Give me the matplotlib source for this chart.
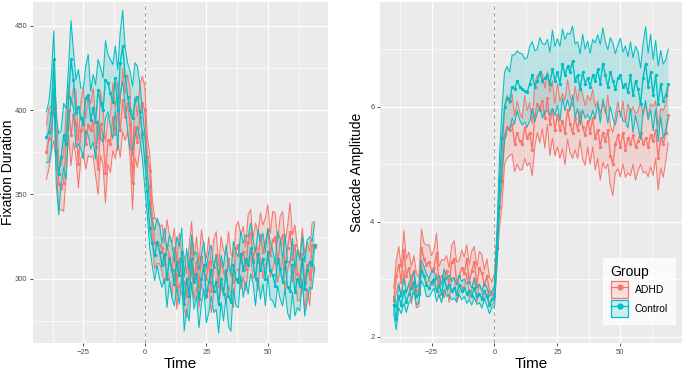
import numpy as np
import matplotlib
matplotlib.use("Agg")
import matplotlib.pyplot as plt
from matplotlib.patches import Patch
from matplotlib.lines import Line2D
from matplotlib.legend_handler import HandlerTuple

plt.rcParams['font.family'] = ['Liberation Sans', 'DejaVu Sans']

# ---- data ----
time = list(range(-40, 70))

fix_adhd = [375, 383, 389, 402, 385, 356, 354, 357, 380, 400,
            385, 397, 392, 368, 388, 394, 380, 391, 388, 393,
            378, 365, 392, 384, 363, 382, 380, 396, 386, 399,
            388, 406, 396, 404, 392, 357, 390, 381, 396, 404,
            400, 372, 364, 336, 321, 322, 320, 318, 309, 320,
            313, 305, 318, 296, 312, 303, 298, 290, 304, 320,
            300, 310, 296, 313, 305, 300, 310, 293, 307, 314,
            296, 310, 304, 300, 312, 303, 298, 318, 320, 310,
            316, 306, 322, 327, 312, 318, 310, 326, 316, 322,
            329, 314, 323, 325, 310, 321, 326, 307, 318, 328,
            312, 320, 303, 300, 315, 298, 308, 300, 320, 319]
fix_adhd_ci = [16, 18, 14, 20, 17, 15, 13, 17, 19, 15,
               18, 16, 20, 14, 17, 19, 15, 18, 16, 20,
               17, 15, 19, 16, 18, 14, 17, 20, 15, 18,
               16, 19, 14, 17, 20, 16, 18, 15, 19, 16,
               14, 12, 10, 12, 15, 13, 11, 14, 12, 15,
               13, 16, 12, 14, 15, 12, 16, 13, 15, 14,
               12, 15, 13, 16, 14, 12, 15, 13, 16, 14,
               12, 15, 13, 14, 16, 12, 15, 13, 14, 16,
               15, 13, 16, 14, 12, 15, 17, 13, 16, 14,
               15, 13, 17, 14, 12, 16, 14, 15, 13, 17,
               14, 12, 16, 13, 15, 17, 14, 16, 13, 15]

fix_ctrl = [384, 387, 398, 430, 376, 362, 372, 385, 380, 408,
            430, 418, 398, 402, 395, 392, 407, 409, 394, 401,
            393, 412, 404, 400, 418, 416, 410, 405, 419, 400,
            428, 438, 420, 408, 400, 395, 406, 408, 399, 386,
            370, 352, 330, 321, 314, 322, 316, 308, 315, 300,
            312, 305, 297, 310, 302, 316, 285, 300, 290, 312,
            298, 303, 288, 300, 308, 290, 298, 305, 293, 298,
            285, 300, 291, 305, 290, 286, 308, 300, 298, 315,
            305, 312, 308, 318, 310, 300, 315, 305, 312, 300,
            316, 305, 302, 296, 312, 306, 298, 310, 295, 293,
            308, 292, 300, 296, 312, 294, 305, 310, 308, 320]
fix_ctrl_ci = [15, 18, 22, 17, 20, 24, 16, 19, 21, 18,
               23, 17, 20, 22, 18, 21, 19, 24, 17, 20,
               22, 18, 21, 19, 23, 17, 20, 22, 19, 24,
               18, 21, 17, 20, 23, 19, 22, 18, 16, 15,
               16, 14, 12, 13, 15, 14, 16, 13, 15, 17,
               14, 16, 13, 15, 17, 14, 16, 18, 15, 14,
               16, 13, 17, 15, 14, 16, 18, 15, 13, 16,
               17, 14, 16, 15, 18, 17, 14, 16, 15, 13,
               16, 14, 17, 15, 13, 16, 14, 17, 15, 16,
               14, 17, 15, 13, 16, 18, 14, 16, 15, 17,
               16, 14, 17, 15, 13, 16, 18, 15, 14, 13]

sac_adhd = [2.62, 3.05, 3.25, 2.95, 3.50, 3.05, 3.20, 2.90, 3.15, 2.80,
            2.78, 3.55, 3.35, 3.25, 3.30, 3.15, 3.20, 3.45, 2.95, 3.05,
            3.00, 3.15, 2.90, 3.30, 3.35, 2.95, 3.05, 3.20, 3.10, 3.35,
            2.95, 3.15, 3.30, 2.90, 3.20, 3.10, 2.90, 3.05, 2.80, 2.75,
            2.85, 3.55, 4.25, 4.70, 5.50, 5.65, 5.60, 5.70, 5.35, 5.55,
            5.40, 5.35, 5.65, 5.45, 5.55, 5.25, 5.85, 6.05, 5.95, 6.10,
            5.80, 6.15, 5.70, 5.95, 5.60, 5.85, 5.60, 5.75, 5.55, 5.95,
            5.70, 5.55, 5.80, 5.60, 5.90, 5.65, 5.50, 5.75, 5.55, 5.80,
            5.45, 5.60, 5.30, 5.55, 5.40, 5.60, 5.15, 5.00, 5.35, 5.50,
            5.30, 5.55, 5.25, 5.45, 5.35, 5.50, 5.30, 5.40, 5.55, 5.35,
            5.45, 5.30, 5.50, 5.40, 5.60, 5.10, 5.45, 5.35, 5.55, 5.85]
sac_adhd_ci = [.22, .28, .32, .25, .35, .30, .27, .33, .26, .30,
               .25, .32, .28, .34, .30, .26, .31, .35, .27, .29,
               .33, .26, .30, .28, .32, .35, .27, .31, .29, .25,
               .30, .34, .27, .31, .28, .33, .26, .30, .24, .20,
               .25, .30, .35, .40, .50, .55, .45, .52, .48, .55,
               .50, .45, .55, .48, .52, .45, .55, .50, .58, .48,
               .52, .46, .55, .50, .45, .55, .50, .48, .56, .52,
               .50, .45, .55, .50, .48, .56, .52, .45, .55, .50,
               .55, .50, .58, .52, .48, .60, .52, .55, .50, .58,
               .52, .55, .48, .60, .55, .50, .58, .52, .55, .50,
               .58, .52, .55, .60, .50, .55, .52, .58, .50, .48]

sac_ctrl = [2.55, 2.30, 2.70, 2.55, 2.80, 2.60, 2.75, 2.85, 2.95, 2.70,
            2.75, 3.15, 3.05, 2.90, 2.85, 2.95, 3.00, 2.80, 2.90, 2.75,
            3.00, 2.85, 2.90, 2.80, 2.85, 2.75, 2.90, 2.80, 2.85, 2.75,
            2.80, 2.70, 2.85, 2.70, 2.75, 2.65, 2.80, 2.70, 2.55, 2.65,
            2.70, 3.55, 4.70, 5.45, 6.00, 6.15, 6.10, 6.35, 6.30, 6.45,
            6.35, 6.30, 6.28, 6.25, 6.40, 6.55, 6.35, 6.45, 6.60, 6.45,
            6.50, 6.55, 6.40, 6.65, 6.45, 6.60, 6.40, 6.75, 6.55, 6.70,
            6.60, 6.80, 6.45, 6.55, 6.30, 6.60, 6.40, 6.50, 6.35, 6.55,
            6.45, 6.65, 6.40, 6.75, 6.55, 6.35, 6.60, 6.45, 6.30, 6.50,
            6.55, 6.35, 6.40, 6.25, 6.55, 6.20, 6.45, 6.30, 6.05, 6.50,
            6.75, 6.35, 6.60, 6.20, 6.55, 6.05, 6.40, 6.10, 6.20, 6.40]
sac_ctrl_ci = [.15, .18, .20, .15, .22, .18, .16, .20, .17, .15,
               .16, .18, .17, .20, .16, .18, .15, .19, .17, .16,
               .18, .15, .17, .16, .18, .15, .17, .16, .15, .17,
               .16, .15, .17, .14, .16, .15, .14, .16, .15, .14,
               .18, .30, .45, .55, .60, .55, .50, .55, .60, .52,
               .58, .62, .55, .60, .65, .58, .62, .55, .60, .65,
               .58, .62, .55, .68, .60, .58, .65, .60, .62, .58,
               .66, .60, .64, .58, .62, .66, .60, .64, .58, .62,
               .66, .60, .68, .62, .58, .64, .60, .66, .62, .58,
               .64, .60, .66, .62, .58, .65, .60, .66, .62, .60,
               .64, .58, .66, .62, .60, .66, .58, .64, .62, .60]

groups = ["ADHD", "Control"]
colors = {"ADHD": "#F8766D", "Control": "#00BFC4"}

W, H = 685, 373
fig = plt.figure(figsize=(W / 100, H / 100), dpi=100)
fig.patch.set_facecolor("white")


def gg_axes(rect):
    ax = fig.add_axes([rect[0] / W, 1 - rect[3] / H, (rect[2] - rect[0]) / W, (rect[3] - rect[1]) / H])
    ax.set_facecolor("#EBEBEB")
    for s in ax.spines.values():
        s.set_visible(False)
    ax.set_axisbelow(True)
    ax.tick_params(axis="both", length=2.5, width=0.6, color="#333333",
                   labelcolor="#4D4D4D", labelsize=5.5, pad=1.5)
    ax.grid(which="major", color="white", linewidth=0.9)
    ax.grid(which="minor", color="white", linewidth=0.45)
    ax.tick_params(which="minor", length=0)
    return ax


def draw(ax, means, cis):
    t = np.array(time)
    for g in groups:
        m = np.array(means[g])
        c = np.array(cis[g])
        col = colors[g]
        ax.fill_between(t, m - c, m + c, facecolor=col, alpha=0.2, linewidth=0)
        ax.plot(t, m - c, color=col, linewidth=0.75)
        ax.plot(t, m + c, color=col, linewidth=0.75)
        ax.plot(t, m, color=col, linewidth=1.0, marker="o", markersize=2.4,
                markeredgewidth=0)
    ax.axvline(0, color="#A0A0A0", linestyle=(0, (4, 3)), linewidth=0.7, zorder=1)
    ax.set_xlim(-45.45, 74.45)
    ax.set_xticks([-25, 0, 25, 50])
    ax.set_xticks([-37.5, -12.5, 12.5, 37.5, 62.5], minor=True)
    ax.set_xlabel("Time", fontsize=11)
    ax.xaxis.set_label_coords(0.5, -0.062)
    ax.xaxis.label.set_va("center")


# left panel
ax1 = gg_axes((33, 2, 328, 343))
draw(ax1, {"ADHD": fix_adhd, "Control": fix_ctrl},
     {"ADHD": fix_adhd_ci, "Control": fix_ctrl_ci})
ax1.set_ylim(262, 464)
ax1.set_yticks([300, 350, 400, 450])
ax1.set_yticks([275, 325, 375, 425], minor=True)
ax1.set_ylabel("Fixation Duration", fontsize=10)
ax1.yaxis.set_label_coords(-0.085, 0.5)
ax1.yaxis.label.set_va("center")

# right panel
ax2 = gg_axes((380, 2, 682, 343))
draw(ax2, {"ADHD": sac_adhd, "Control": sac_ctrl},
     {"ADHD": sac_adhd_ci, "Control": sac_ctrl_ci})
ax2.set_ylim(1.89, 7.82)
ax2.set_yticks([2, 4, 6])
ax2.set_yticks([3, 5, 7], minor=True)
ax2.set_ylabel("Saccade Amplitude", fontsize=10)
ax2.yaxis.set_label_coords(-0.075, 0.5)
ax2.yaxis.label.set_va("center")

handles = []
for g in groups:
    p = Patch(facecolor=colors[g], alpha=0.2, edgecolor="none")
    e = Patch(facecolor="none", edgecolor=colors[g], linewidth=0.9)
    ln = Line2D([], [], color=colors[g], linewidth=0.9, marker="o", markersize=3.5)
    handles.append((p, e, ln))
leg = ax2.legend(handles, groups, title="Group", loc="lower left",
                 bbox_to_anchor=(0.738, 0.053), fontsize=7.5, title_fontsize=10,
                 handler_map={tuple: HandlerTuple(ndivide=1, pad=0)},
                 frameon=True, fancybox=False, handlelength=1.7, handleheight=2.1,
                 borderpad=0.75, labelspacing=0.2, handletextpad=0.6,
                 borderaxespad=0)
leg.get_frame().set_facecolor("white")
leg.get_frame().set_edgecolor("none")
leg._legend_box.align = "left"

fig.savefig("out.png", dpi=100)
